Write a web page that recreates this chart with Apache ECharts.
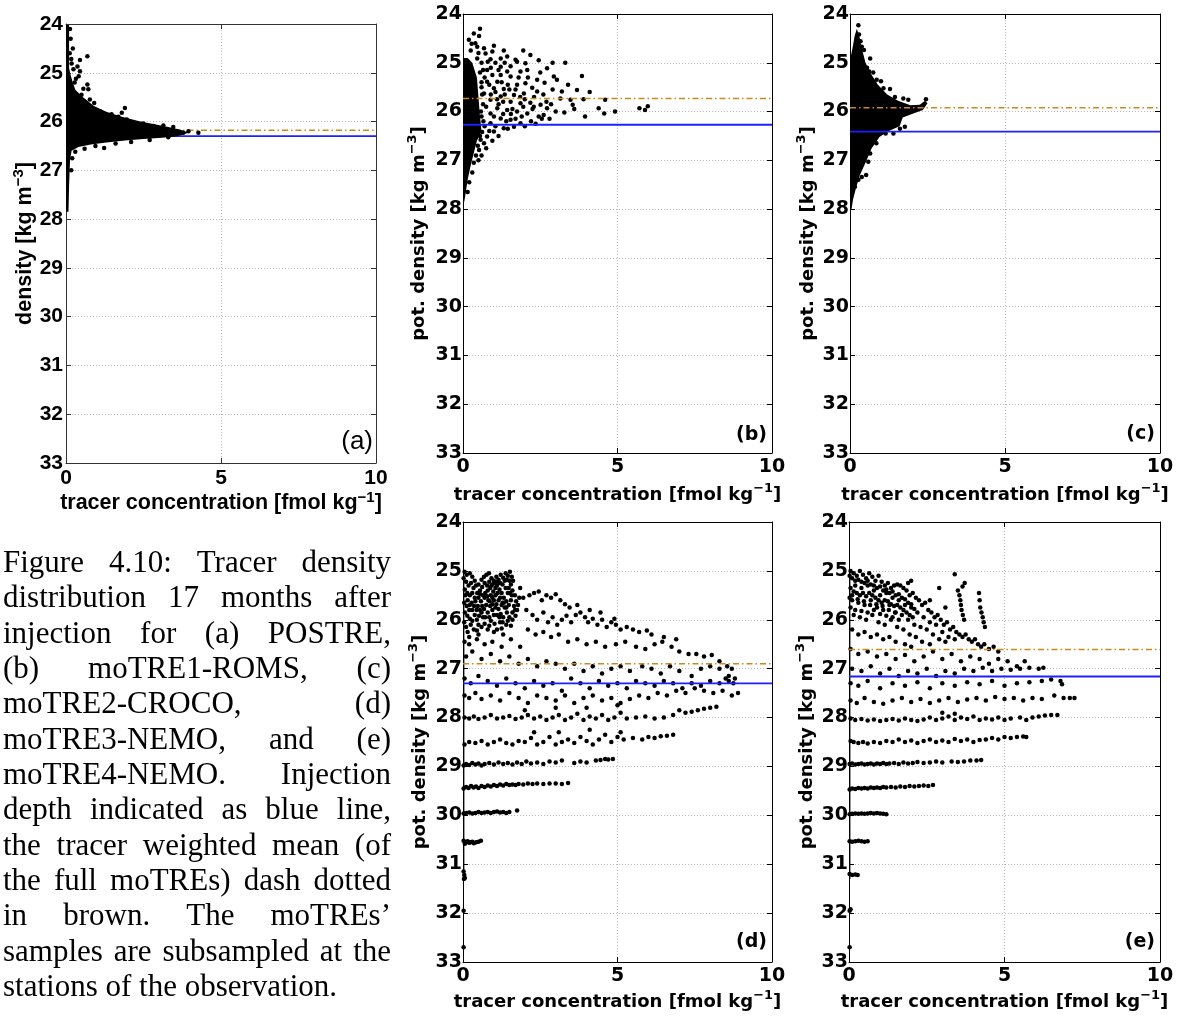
<!DOCTYPE html>
<html><head><meta charset="utf-8">
<script src="https://cdn.jsdelivr.net/npm/echarts@6/dist/echarts.min.js"></script>
<style>html,body{margin:0;padding:0;background:#fff}#c{width:1179px;height:1019px}</style>
</head><body><div id="c"></div><script>
// ---------------- data ----------------
const panelTags = ['(a)', '(b)', '(c)', '(d)', '(e)'];
const yTitles = ['density [kg m', 'pot. density [kg m', 'pot. density [kg m', 'pot. density [kg m', 'pot. density [kg m'];
const xTitle = 'tracer concentration [fmol kg';
const xTicks = [0, 5, 10];
const yTicks = [24, 25, 26, 27, 28, 29, 30, 31, 32, 33];
const injectionDepth = [26.30, 26.27, 26.41, 27.30, 27.16];   // blue lines
const weightedMean = [26.18, 25.73, 25.92, 26.90, 26.61];     // brown dash-dot lines

// saturated (fully black) point clouds, outlined
const coreA = [[0,24.02],[0.1,24.02],[0.1,24.9],[0.15,25.05],[0.22,25.2],[0.3,25.35],[0.55,25.5],[0.9,25.68],[1.3,25.8],[1.8,25.9],[2.4,26.0],[2.9,26.06],[3.3,26.11],[3.7,26.17],[3.95,26.23],[3.6,26.3],[3.1,26.33],[2.5,26.36],[1.9,26.39],[1.3,26.43],[0.8,26.47],[0.4,26.52],[0.18,26.6],[0.13,26.8],[0.1,27.3],[0.08,27.85],[0,27.85]];
const coreB = [[0,24.9],[0.15,24.9],[0.3,25.0],[0.45,25.3],[0.5,25.7],[0.55,26.1],[0.6,26.4],[0.45,26.6],[0.35,26.85],[0.25,27.1],[0.15,27.4],[0.08,27.7],[0.04,27.85],[0,27.85]];
const coreC = [[0,24.95],[0.08,24.7],[0.15,24.45],[0.22,24.3],[0.3,24.45],[0.38,24.7],[0.5,25.0],[0.7,25.25],[0.9,25.45],[1.2,25.65],[1.55,25.78],[1.95,25.87],[2.25,25.86],[2.42,25.78],[2.5,25.83],[2.35,25.97],[2.0,26.05],[1.7,26.12],[1.6,26.3],[1.25,26.4],[0.95,26.52],[0.7,26.75],[0.5,27.05],[0.32,27.3],[0.2,27.55],[0.1,27.8],[0.05,28.0],[0,28.0]];
const colD = [[0,25.0],[0.045,25.0],[0.045,31.3],[0,31.3]];
const colE = [[0,25.0],[0.045,25.0],[0.045,31.3],[0,31.3]];

// individual samples
const pointsA = [[0.22,24.5],[0.69,24.66],[0.45,24.74],[0.18,24.81],[0.37,24.87],[0.45,24.97],[0.24,24.93],[0.41,25.07],[0.32,25.12],[0.69,25.24],[0.72,25.34],[0.56,25.33],[0.91,25.62],[0.77,25.55],[1.1,25.79],[1.9,25.72],[1.8,25.82],[1.47,25.85],[1.2,25.85],[1.69,25.9],[1.23,26.54],[4.27,26.23],[3.95,26.2],[3.78,26.23],[3.46,26.11],[3.14,26.08],[2.82,26.09],[2.49,26.04],[2.17,26.02],[2.28,26.08],[1.96,25.96],[1.58,25.94],[0.13,24.1],[0.15,24.3],[0.12,24.6],[0.17,24.72],[0.28,25.2],[0.5,25.45],[0.62,25.6],[0.85,25.72],[3.3,26.32],[2.7,26.38],[2.1,26.42],[1.6,26.45],[0.95,26.5],[0.6,26.56],[0.3,26.62],[0.2,26.75],[0.17,27.0]];
const pointsB = [[0.52,24.45],[0.19,24.53],[0.28,24.61],[0.46,24.67],[0.68,24.7],[1.0,24.65],[1.32,24.75],[0.73,24.81],[0.89,24.93],[0.46,24.91],[2.18,24.84],[1.75,24.98],[1.54,25.07],[1.22,25.08],[1.43,25.18],[0.78,25.15],[3.31,25.0],[2.72,25.11],[2.02,25.01],[2.08,25.15],[1.86,25.18],[1.22,25.25],[1.54,25.28],[1.11,25.39],[0.78,25.39],[3.85,25.27],[2.4,25.35],[3.04,25.35],[2.64,25.41],[1.75,25.45],[2.02,25.42],[2.24,25.51],[1.0,25.52],[1.32,25.54],[0.68,25.63],[1.65,25.66],[1.97,25.63],[2.4,25.59],[3.2,25.59],[3.69,25.56],[1.22,25.69],[0.89,25.76],[3.15,25.73],[3.48,25.76],[3.9,25.75],[4.6,25.76],[1.54,25.8],[1.86,25.83],[2.18,25.82],[2.51,25.86],[2.72,25.93],[3.55,25.86],[4.39,25.93],[4.57,26.04],[4.92,26.0],[5.71,25.93],[5.98,25.89],[5.89,25.97],[3.28,26.02],[2.61,26.07],[2.45,26.1],[2.08,26.04],[1.75,26.0],[1.43,25.97],[1.11,25.93],[0.89,26.04],[1.22,26.14],[1.54,26.17],[1.86,26.24],[1.65,26.31],[1.32,26.34],[1.0,26.41],[0.78,26.51],[0.68,26.65],[0.57,26.58],[0.89,26.24],[0.52,26.79],[2.29,25.9],[2.94,25.28],[1.22,24.91],[1.43,24.87],[1.7,24.94],[0.95,24.77],[0.6,25.0],[0.7,25.3],[0.9,25.1],[1.05,25.6],[0.6,25.5],[0.75,25.9],[0.6,26.1],[0.7,26.3],[1.0,26.1],[1.3,25.8],[1.45,25.45],[1.6,25.95],[1.9,26.1],[2.0,25.75],[2.2,26.2],[1.15,26.5],[0.95,26.6],[0.6,26.9],[0.5,27.0],[1.8,25.3],[2.5,25.2],[2.3,25.7],[0.55,24.3],[0.35,24.4],[0.65,25.15],[2.9,25.55],[2.7,25.8],[1.35,25.0],[0.85,25.45],[1.15,25.85],[1.4,26.2],[2.55,26.15],[0.62,26.42],
[0.55,25.2],[0.6,25.4],[0.62,25.65],[0.65,25.85],[0.58,26.0],[0.66,26.2],[0.55,26.5],[0.48,26.7],[0.42,26.9],[0.35,27.05],[0.3,27.25],[0.2,27.45],[0.15,27.65],[0.5,24.8],[0.4,24.6],[0.25,24.75],[0.8,24.98],[1.05,25.0],[0.95,25.25],[1.15,25.15],[1.25,25.4],[0.9,25.65],[1.1,25.75],[1.35,25.65],[1.5,25.55],[1.7,25.55],[1.85,25.7],[2.1,25.3],[2.25,25.95],[1.95,25.9],[1.3,26.05],[1.05,26.3],[0.85,26.4],[1.55,26.05],[1.7,26.15],[2.0,26.3],[1.45,26.35],[0.75,26.75],[2.6,25.65],[2.85,25.85],[3.0,26.0],[2.8,26.15],[2.35,26.25],[3.4,25.45],[3.6,25.95],[4.1,25.6],[3.95,26.1],[2.45,24.95],[2.9,25.0],[1.95,24.75]];
const pointsC = [[0.27,24.23],[0.29,24.42],[0.22,24.53],[0.34,24.56],[0.38,24.67],[0.45,24.74],[0.65,24.91],[0.62,25.18],[0.86,25.35],[1.08,25.52],[1.29,25.54],[1.45,25.7],[1.72,25.73],[1.88,25.76],[1.67,25.97],[1.29,26.07],[1.77,26.31],[1.61,26.35],[1.4,26.45],[0.75,26.59],[0.65,26.86],[0.52,27.3],[0.38,27.34],[0.27,27.4],[0.16,27.54],[0.34,27.13],[0.59,27.03],[0.55,25.1],[0.75,25.2],[1.0,25.38],[1.15,26.45],[0.85,26.65],[2.45,25.75]];
const pointsD = [
[0.05,25.02],[0.12,25.08],[0.22,25.05],[0.3,25.12],[0.38,25.2],[0.5,25.28],[0.55,25.4],[0.62,25.33],[0.7,25.25],[0.78,25.3],[0.85,25.22],[0.92,25.15],[1.0,25.2],[1.08,25.12],[1.15,25.18],[1.22,25.08],[1.3,25.14],[1.38,25.05],[1.45,25.1],[1.52,25.02],[1.58,25.12],[1.62,25.2],[1.55,25.28],[1.48,25.35],[1.6,25.4],[1.68,25.5],[1.72,25.62],[1.65,25.72],[1.75,25.8],[1.7,25.92],[1.6,26.0],[1.5,25.95],[1.42,25.85],[1.35,25.75],[1.28,25.65],[1.2,25.55],[1.12,25.45],[1.05,25.35],[0.98,25.42],[0.9,25.5],[0.82,25.6],[0.75,25.7],[0.68,25.78],[0.6,25.85],[0.52,25.92],[0.45,26.0],[0.38,25.9],[0.3,25.8],[0.22,25.7],[0.15,25.6],[0.08,25.5],[0.5,25.55],[0.58,25.62],[0.65,25.5],[0.72,25.45],[0.8,25.4],[0.88,25.35],[0.95,25.28],[1.1,25.3],[1.18,25.38],[1.25,25.45],[1.32,25.55],[1.4,25.62],[1.45,25.45],[1.38,25.35],[1.28,25.28],[1.0,25.6],[1.08,25.68],[1.15,25.78],[1.22,25.88],[1.3,25.95],[1.1,25.9],[0.95,25.8],[0.88,25.72],[0.8,25.85],[0.72,25.95],[0.9,26.02],[1.02,26.08],[1.2,26.05],[1.4,26.1],[1.55,26.12],[0.25,26.1],[0.1,26.15],[0.35,26.2],[0.6,26.15],[0.8,26.2],[1.0,26.25],[1.3,26.3],[0.5,26.3],[0.2,26.35],
[0.02,25.15],[0.1,25.22],[0.18,25.3],[0.26,25.25],[0.34,25.35],[0.42,25.3],[0.06,25.38],[0.14,25.45],[0.22,25.5],[0.3,25.45],[0.38,25.55],[0.46,25.45],[0.04,25.65],[0.12,25.72],[0.2,25.8],[0.28,25.65],[0.36,25.72],[0.44,25.8],[0.06,25.85],[0.14,25.92],[0.22,25.98],[0.3,26.02],[0.04,26.05],[0.6,25.18],[0.68,25.12],[0.76,25.08],[0.84,25.05],[0.92,25.3],[1.02,25.25],[1.12,25.22],[1.2,25.25],[1.35,25.2],[1.42,25.18],[1.5,25.2],[0.95,25.55],[1.05,25.5],[1.15,25.6],[1.25,25.7],[1.32,25.65],[1.4,25.75],[1.48,25.7],[1.55,25.6],[1.58,25.5],[1.52,25.45],[0.62,25.72],[0.55,25.8],[0.65,25.95],[0.85,25.95],[1.0,25.9],[1.18,25.95],[1.28,26.05],[0.5,26.1],[0.7,26.08],[0.85,26.12],[0.4,25.62],[0.48,25.72],[0.56,25.48],[0.7,25.55],[0.78,25.52],[0.86,25.62],[0.95,25.68],[1.05,25.75],[1.6,25.85],[1.68,25.8],[1.78,25.7],[1.82,25.55],[1.45,26.02],[1.25,26.18],[1.1,26.2],[0.45,26.22],[0.15,26.25],
[1.85,25.35],[1.95,25.55],[2.05,25.8],[2.15,25.5],[2.3,25.45],[2.45,25.42],[2.55,25.6],[2.7,25.5],[2.85,25.55],[3.0,25.48],[3.15,25.6],[3.3,25.68],[3.45,25.75],[2.25,25.9],[2.4,26.0],[2.6,25.85],[2.75,26.05],[2.9,25.95],[3.05,26.1],[3.2,26.0],[3.35,25.92],[3.5,26.05],[3.65,25.9],[3.8,25.85],[3.95,25.95],[4.05,26.05],[4.2,25.98],[4.35,26.1],[4.5,26.0],[4.65,26.15],[4.8,26.05],[4.95,26.1],[5.1,26.2],[5.3,26.15],[5.5,26.2],[5.7,26.25],[5.95,26.22],[6.1,26.3],[3.7,25.7],[4.1,25.8],[4.45,25.85],[4.9,25.98],
[2.1,26.2],[2.35,26.3],[2.6,26.25],[2.85,26.35],[3.1,26.3],[3.4,26.45],[3.7,26.4],[4.0,26.5],[4.3,26.45],[4.6,26.55],[4.95,26.5],[5.25,26.45],[5.6,26.55],[5.9,26.6],[6.2,26.5],[6.45,26.45],[6.75,26.55],[7.0,26.65],[7.3,26.7],[7.55,26.7],[7.8,26.75],[8.05,26.72],[8.3,26.85],[8.55,26.95],[8.7,27.0],[6.5,26.35],[6.9,26.4],
[0.1,26.75],[0.3,26.65],[0.6,26.8],[0.9,26.7],[1.2,26.85],[1.5,26.75],[1.8,26.9],[2.1,26.8],[2.4,26.95],[2.7,26.85],[3.0,26.9],[3.3,27.0],[3.6,26.9],[3.9,27.05],[4.2,26.95],[4.5,27.1],[4.8,27.0],[5.1,26.95],[5.4,27.05],[5.8,26.95],[6.1,27.0],[6.4,27.1],[6.7,26.95],[7.0,27.05],[7.4,27.15],[7.7,27.0],[8.0,26.95],[8.3,27.0],[8.6,27.15],[8.8,27.2],[8.75,27.3],[8.6,27.25],
[0.05,26.45],[0.2,26.5],[0.45,26.4],[0.7,26.5],[0.95,26.45],[1.25,26.55],[1.55,26.4],[1.85,26.55],
[0.05,27.2],[0.25,27.3],[0.5,27.15],[0.8,27.25],[1.1,27.35],[1.4,27.2],[1.7,27.3],[2.0,27.4],[2.3,27.25],[2.6,27.35],[2.9,27.3],[3.2,27.45],[3.5,27.2],[3.8,27.3],[4.1,27.4],[4.4,27.25],[4.7,27.35],[5.0,27.3],[5.3,27.4],[5.6,27.25],[5.9,27.3],[6.2,27.35],[6.5,27.25],[6.8,27.3],[7.1,27.4],[7.4,27.3],[7.7,27.35],[8.0,27.25],[8.3,27.3],[8.5,27.2],
[0.05,27.55],[0.2,27.6],[0.4,27.5],[0.6,27.62],[0.9,27.55],[1.2,27.65],[1.5,27.5],[1.8,27.6],[2.1,27.7],[2.4,27.55],[2.7,27.6],[3.0,27.65],[3.3,27.55],[3.6,27.7],[3.9,27.6],[4.2,27.55],[4.5,27.65],[4.8,27.6],[5.1,27.7],[5.4,27.62],[5.7,27.55],[6.0,27.6],[6.3,27.5],[6.6,27.55],[6.9,27.45],[7.2,27.5],[7.5,27.4],[7.8,27.45],[8.1,27.5],[8.4,27.45],[8.7,27.55],[8.9,27.5],
[0.05,28.0],[0.2,28.02],[0.35,27.98],[0.5,28.03],[0.7,28.0],[0.9,27.95],[1.1,28.02],[1.3,28.0],[1.5,27.97],[1.7,28.03],[1.9,28.0],[2.1,27.95],[2.3,28.02],[2.5,27.98],[2.7,28.05],[2.9,28.0],[3.1,27.95],[3.3,28.05],[3.5,28.0],[3.7,27.92],[3.9,28.05],[4.1,27.98],[4.3,28.02],[4.5,27.95],[4.7,28.05],[4.9,28.0],[5.1,27.9],[5.3,28.02],[5.6,28.0],[5.9,27.98],[6.2,28.02],[6.5,28.0],[6.8,27.95],[7.0,27.85],[7.2,27.9],[7.4,27.88],[7.6,27.85],[7.8,27.82],[8.0,27.8],[8.2,27.78],[3.0,27.8],[4.0,27.8],[5.0,27.75],[2.0,27.85],
[0.05,28.55],[0.2,28.5],[0.4,28.52],[0.6,28.48],[0.8,28.55],[1.0,28.5],[1.2,28.45],[1.4,28.52],[1.6,28.55],[1.8,28.48],[2.0,28.5],[2.2,28.42],[2.4,28.55],[2.6,28.5],[2.8,28.4],[3.0,28.55],[3.2,28.5],[3.4,28.45],[3.6,28.52],[3.8,28.4],[4.0,28.48],[4.2,28.55],[4.4,28.45],[4.6,28.35],[4.8,28.5],[5.0,28.4],[5.2,28.45],[5.5,28.42],[5.8,28.45],[6.0,28.4],[6.2,28.42],[6.4,28.38],[6.6,28.37],[6.8,28.35],[3.1,28.3],[4.1,28.25],[5.1,28.3],[2.3,28.3],
[0.02,28.98],[0.1,28.95],[0.2,28.97],[0.3,28.93],[0.4,28.96],[0.5,28.94],[0.6,28.98],[0.7,28.95],[0.85,28.93],[1.0,28.96],[1.15,28.92],[1.3,28.95],[1.45,28.93],[1.6,28.96],[1.75,28.92],[1.9,28.95],[2.05,28.9],[2.2,28.94],[2.4,28.92],[2.6,28.95],[2.8,28.9],[3.0,28.92],[3.2,28.88],[3.6,28.93],[3.8,28.9],[4.0,28.92],[4.3,28.88],[4.45,28.87],[4.6,28.85],[4.7,28.86],[4.85,28.85],
[0.02,29.45],[0.1,29.42],[0.18,29.44],[0.26,29.4],[0.34,29.43],[0.42,29.41],[0.5,29.44],[0.6,29.4],[0.7,29.42],[0.8,29.39],[0.9,29.41],[1.0,29.38],[1.1,29.4],[1.2,29.37],[1.3,29.39],[1.4,29.36],[1.5,29.38],[1.6,29.37],[1.7,29.38],[1.8,29.36],[1.95,29.37],[2.1,29.35],[2.25,29.36],[2.4,29.35],[2.6,29.36],[2.8,29.35],[3.0,29.35],[3.2,29.36],[3.4,29.34],
[0.02,29.96],[0.1,29.95],[0.2,29.94],[0.3,29.96],[0.4,29.95],[0.5,29.93],[0.6,29.95],[0.7,29.94],[0.8,29.93],[0.9,29.95],[1.0,29.93],[1.1,29.92],[1.2,29.94],[1.3,29.93],[1.4,29.95],[1.5,29.93],[1.75,29.9],
[0.02,30.52],[0.06,30.58],[0.1,30.55],[0.15,30.53],[0.2,30.56],[0.25,30.55],[0.3,30.54],[0.35,30.57],[0.42,30.55],[0.5,30.54],[0.58,30.52],
[0.02,31.15],[0.04,31.22],[0.06,31.28],[0.03,31.3],[0.02,31.95],[0.02,32.7]];
const pointsE = [
[0.05,25.0],[0.15,25.05],[0.25,25.1],[0.35,25.0],[0.45,25.08],[0.55,25.15],[0.65,25.05],[0.75,25.12],[0.85,25.2],[0.95,25.1],[1.05,25.22],[1.15,25.3],[1.25,25.25],[1.35,25.35],[1.45,25.3],[1.55,25.28],[1.65,25.3],[1.75,25.35],[1.85,25.4],[1.95,25.5],[2.05,25.45],[2.15,25.55],[2.25,25.6],[2.35,25.7],[2.45,25.65],[2.55,25.8],[2.65,25.85],[2.75,25.95],[2.85,25.9],[2.95,26.0],[3.05,26.1],[3.15,26.05],[3.25,26.2],[3.35,26.15],[3.45,26.25],[3.55,26.3],[3.65,26.35],[3.75,26.3],[3.85,26.4],[3.95,26.45],[4.05,26.4],[4.15,26.5],[4.25,26.55],[4.35,26.5],[4.5,26.6],[4.65,26.55],[4.8,26.65],
[0.2,25.3],[0.4,25.35],[0.6,25.3],[0.8,25.4],[1.0,25.5],[1.2,25.45],[1.4,25.55],[1.6,25.6],[1.8,25.7],[2.0,25.75],[2.2,25.85],[2.4,25.95],[2.6,26.05],[2.8,26.1],[3.0,26.25],[3.2,26.35],[3.4,26.4],[0.1,25.6],[0.3,25.65],[0.5,25.7],[0.7,25.6],[0.9,25.75],[1.1,25.8],[1.3,25.7],[1.5,25.85],[1.7,25.9],[1.9,26.0],[2.1,26.1],[2.3,26.15],[2.5,26.2],[2.7,26.3],[2.9,26.4],[3.1,26.45],[0.15,25.9],[0.35,25.95],[0.55,26.0],[0.75,25.9],[0.95,26.05],[1.15,26.1],[1.35,26.0],[1.55,26.15],[1.75,26.2],[1.95,26.3],[2.15,26.35],[2.35,26.45],[2.6,26.5],[0.1,26.2],[0.3,26.3],[0.5,26.25],[0.7,26.35],[0.9,26.3],[1.1,26.4],[1.3,26.35],[1.5,26.45],[1.8,26.5],[2.0,26.55],
[0.02,25.1],[0.1,25.15],[0.2,25.2],[0.3,25.18],[0.4,25.22],[0.5,25.25],[0.6,25.2],[0.7,25.28],[0.8,25.3],[0.9,25.35],[1.0,25.32],[1.1,25.4],[1.2,25.38],[1.3,25.45],[1.4,25.42],[1.5,25.5],[1.6,25.48],[1.7,25.55],[1.8,25.58],[1.9,25.65],[2.0,25.68],[2.1,25.78],[0.05,25.35],[0.15,25.42],[0.25,25.45],[0.35,25.5],[0.45,25.45],[0.55,25.52],[0.65,25.45],[0.75,25.5],[0.85,25.55],[0.95,25.6],[1.05,25.65],[1.15,25.6],[1.25,25.62],[1.35,25.68],[1.45,25.72],[1.55,25.7],[1.65,25.75],[1.75,25.8],[1.85,25.85],[1.95,25.9],[2.05,25.95],[0.05,25.75],[0.2,25.8],[0.4,25.82],[0.6,25.85],[0.8,25.8],[1.0,25.88],[1.2,25.92],[1.4,25.95],[1.6,26.0],[0.02,25.55],[0.1,25.5],[0.28,25.58],[0.48,25.62],[0.68,25.7],[0.88,25.68],[1.08,25.72],[1.28,25.8],[1.48,25.85],
[3.4,25.07],[3.5,25.4],[3.55,25.5],[3.58,25.6],[3.6,25.7],[3.62,25.8],[3.66,25.9],[3.7,26.0],[3.72,25.25],[3.65,25.32],[4.18,25.45],[4.2,25.6],[4.22,25.75],[4.26,25.85],[4.3,25.95],[4.33,26.05],[4.37,26.15],[2.9,25.35],[2.6,25.6],[3.1,25.75],[1.9,25.25],[2.0,25.2],
[0.05,26.6],[0.3,26.7],[0.6,26.65],[0.9,26.75],[1.2,26.7],[1.5,26.8],[1.8,26.72],[2.1,26.85],[2.4,26.75],[2.7,26.65],[3.0,26.8],[3.3,26.7],[3.6,26.85],[3.9,26.75],[4.2,26.8],[4.5,26.9],[4.8,26.8],[5.1,26.85],[5.4,26.95],[5.65,26.85],
[0.1,27.0],[0.4,27.05],[0.7,26.95],[1.0,27.1],[1.3,27.0],[1.6,27.15],[1.9,27.05],[2.2,27.1],[2.5,27.0],[2.8,27.15],[3.1,27.05],[3.4,27.1],[3.7,27.0],[4.0,27.05],[4.3,26.98],[4.6,27.05],[4.9,27.0],[5.2,27.02],[5.5,27.0],[5.8,26.98],[6.1,27.0],[6.25,26.98],
[0.05,27.3],[0.3,27.35],[0.6,27.25],[1.0,27.4],[1.4,27.3],[1.8,27.35],[2.2,27.28],[2.6,27.4],[3.0,27.3],[3.4,27.35],[3.8,27.28],[4.2,27.32],[4.6,27.25],[5.0,27.35],[5.4,27.3],[5.8,27.28],[6.2,27.25],[6.5,27.22],[6.8,27.25],[6.85,27.32],
[0.05,27.65],[0.25,27.7],[0.5,27.6],[0.8,27.68],[1.1,27.72],[1.4,27.65],[1.7,27.6],[2.0,27.68],[2.3,27.62],[2.6,27.7],[2.9,27.65],[3.2,27.6],[3.5,27.68],[3.8,27.63],[4.1,27.6],[4.4,27.65],[4.7,27.58],[5.0,27.62],[5.3,27.6],[5.6,27.65],[5.9,27.6],[6.2,27.62],[6.6,27.55],[6.9,27.6],[7.1,27.6],[7.25,27.6],
[0.05,28.02],[0.2,28.05],[0.4,28.03],[0.6,28.06],[0.8,28.04],[1.0,28.07],[1.2,28.05],[1.4,28.03],[1.6,28.06],[1.8,28.02],[2.0,28.05],[2.2,28.07],[2.4,28.04],[2.6,28.0],[2.8,28.05],[3.0,28.02],[3.2,27.98],[3.4,28.05],[3.6,28.0],[3.8,28.03],[4.0,27.98],[4.2,28.05],[4.4,28.02],[4.6,28.04],[4.8,28.0],[5.0,28.05],[5.2,28.02],[5.5,28.0],[5.7,28.05],[5.9,28.0],[6.1,27.98],[6.3,27.96],[6.5,27.95],[6.7,27.95],[3.0,27.9],[3.4,27.92],
[0.05,28.48],[0.15,28.5],[0.3,28.52],[0.45,28.5],[0.6,28.53],[0.8,28.5],[1.0,28.52],[1.2,28.48],[1.4,28.5],[1.6,28.45],[1.8,28.5],[2.0,28.47],[2.2,28.52],[2.4,28.48],[2.6,28.45],[2.8,28.5],[3.0,28.47],[3.2,28.5],[3.4,28.44],[3.6,28.48],[3.8,28.45],[4.0,28.5],[4.2,28.46],[4.4,28.45],[4.6,28.42],[4.8,28.45],[5.0,28.4],[5.2,28.42],[5.4,28.4],[5.6,28.39],[5.7,28.4],
[0.02,28.95],[0.1,28.94],[0.2,28.96],[0.3,28.95],[0.4,28.94],[0.5,28.96],[0.6,28.95],[0.7,28.94],[0.8,28.96],[0.9,28.94],[1.0,28.95],[1.1,28.93],[1.2,28.95],[1.3,28.94],[1.45,28.93],[1.6,28.95],[1.75,28.92],[1.9,28.94],[2.05,28.93],[2.2,28.91],[2.4,28.93],[2.6,28.92],[2.8,28.9],[3.0,28.92],[3.3,28.9],[3.5,28.91],[3.7,28.9],[3.9,28.88],[4.1,28.88],[4.25,28.87],
[0.02,29.47],[0.1,29.45],[0.2,29.46],[0.3,29.44],[0.4,29.45],[0.5,29.44],[0.6,29.45],[0.7,29.43],[0.8,29.44],[0.9,29.43],[1.0,29.44],[1.1,29.42],[1.2,29.43],[1.35,29.42],[1.5,29.43],[1.65,29.41],[1.8,29.42],[1.95,29.4],[2.1,29.41],[2.25,29.4],[2.4,29.39],[2.55,29.4],[2.7,29.38],
[0.02,29.98],[0.1,29.97],[0.2,29.96],[0.3,29.97],[0.4,29.96],[0.5,29.97],[0.6,29.96],[0.7,29.95],[0.8,29.96],[0.9,29.95],[1.0,29.96],[1.1,29.97],[1.2,29.98],
[0.02,30.53],[0.1,30.54],[0.2,30.53],[0.3,30.52],[0.4,30.53],[0.5,30.54],[0.6,30.53],
[0.02,31.2],[0.1,31.22],[0.2,31.21],[0.28,31.22],[0.02,31.95],[0.05,31.92],[0.02,32.7]];

const captionLines = [
  ['Figure', '4.10:', 'Tracer', 'density'],
  ['distribution', '17', 'months', 'after'],
  ['injection', 'for', '(a)', 'POSTRE,'],
  ['(b)', 'moTRE1-ROMS,', '(c)'],
  ['moTRE2-CROCO,', '(d)'],
  ['moTRE3-NEMO,', 'and', '(e)'],
  ['moTRE4-NEMO.', 'Injection'],
  ['depth', 'indicated', 'as', 'blue', 'line,'],
  ['the', 'tracer', 'weighted', 'mean', '(of'],
  ['the', 'full', 'moTREs)', 'dash', 'dotted'],
  ['in', 'brown.', 'The', 'moTREs\u2019'],
  ['samples', 'are', 'subsampled', 'at', 'the'],
  ['stations', 'of', 'the', 'observation.']
];

const cores = [[coreA], [coreB], [coreC], [colD], [colE]];
const points = [pointsA, pointsB, pointsC, pointsD, pointsE];

// ---------------- layout / style ----------------
const FA = '"Liberation Sans", Arial, sans-serif';
const FB = '"DejaVu Sans", sans-serif';
const layout = [
  {left: 66, top: 24, width: 310, height: 439, font: FA, fs: 21, tfs: 21.5, ylm: 3, xlm: 5, xGap: 22, yGap: 25, axisColor: '#333'},
  {left: 463, top: 14, width: 309, height: 439, font: FB, fs: 19, tfs: 18, ylm: 1, xlm: 5, xGap: 29, yGap: 31, axisColor: '#000'},
  {left: 850, top: 14, width: 310, height: 439, font: FB, fs: 19, tfs: 18, ylm: 1, xlm: 5, xGap: 29, yGap: 29, axisColor: '#000'},
  {left: 463, top: 522, width: 309, height: 440, font: FB, fs: 19, tfs: 18, ylm: 1, xlm: 5, xGap: 27, yGap: 30, axisColor: '#000'},
  {left: 849, top: 522, width: 311, height: 440, font: FB, fs: 19, tfs: 18, ylm: 1, xlm: 5, xGap: 27, yGap: 29, axisColor: '#000'}
];
const tagPos = [[373, 442], [767, 435], [1155, 434], [767, 942], [1155, 942]];

function richFor(L) {
  return {
    t: {fontFamily: L.font, fontWeight: 'bold', fontSize: L.tfs, color: '#000', lineHeight: 26},
    s: {fontFamily: L.font, fontWeight: 'bold', fontSize: Math.round(L.tfs * 0.7), color: '#000', lineHeight: 12, verticalAlign: 'top'}
  };
}

const grids = [], xAxes = [], yAxes = [], series = [];
layout.forEach((L, i) => {
  grids.push({left: L.left, top: L.top, width: L.width, height: L.height, containLabel: false, outerBoundsMode: 'none', show: false});
  const line = {show: true, onZero: false, lineStyle: {color: L.axisColor, width: 1}};
  const tick = {show: true, inside: true, length: 5, lineStyle: {color: L.axisColor, width: 1}};
  const split = {show: true, lineStyle: {color: '#b8b8b8', width: 1, type: [1, 2]}};
  const lab = {fontFamily: L.font, fontWeight: 'bold', fontSize: L.fs, color: '#000'};
  xAxes.push({gridIndex: i, type: 'value', position: 'bottom', min: xTicks[0], max: xTicks[xTicks.length - 1], interval: xTicks[1] - xTicks[0],
    axisLine: line, axisTick: tick, splitLine: split, axisLabel: Object.assign({margin: L.xlm}, lab),
    name: '{t|' + xTitle + '}{s|\u22121}{t|]}', nameLocation: 'middle', nameGap: L.xGap, nameTextStyle: {rich: richFor(L)}});
  xAxes.push({gridIndex: i, type: 'value', position: 'top', min: xTicks[0], max: xTicks[xTicks.length - 1], interval: xTicks[1] - xTicks[0],
    axisLine: line, axisTick: tick, splitLine: {show: false}, axisLabel: {show: false}});
  yAxes.push({gridIndex: i, type: 'value', position: 'left', inverse: true, min: yTicks[0], max: yTicks[yTicks.length - 1], interval: 1,
    axisLine: line, axisTick: tick, splitLine: split, axisLabel: Object.assign({margin: L.ylm}, lab),
    name: '{t|' + yTitles[i] + '}{s|\u22123}{t|]}', nameLocation: 'middle', nameRotate: 90, nameGap: L.yGap, nameTextStyle: {rich: richFor(L)}});
  yAxes.push({gridIndex: i, type: 'value', position: 'right', inverse: true, min: yTicks[0], max: yTicks[yTicks.length - 1], interval: 1,
    axisLine: line, axisTick: tick, splitLine: {show: false}, axisLabel: {show: false}});

  const xi = 2 * i, yi = 2 * i;
  cores[i].forEach(poly => {
    series.push({type: 'custom', coordinateSystem: 'cartesian2d', xAxisIndex: xi, yAxisIndex: yi, silent: true, clip: false, z: 3,
      data: [poly[0]],
      renderItem: (params, api) => ({type: 'polygon', shape: {points: poly.map(p => api.coord(p))}, style: {fill: '#000'}})});
  });
  series.push({type: 'scatter', xAxisIndex: xi, yAxisIndex: yi, data: points[i], symbol: 'circle', symbolSize: 4.5,
    itemStyle: {color: '#000', opacity: 1}, silent: true, clip: false, z: 3});
  const lz = i === 0 ? 2 : 5;
  series.push({type: 'line', xAxisIndex: xi, yAxisIndex: yi, data: [[xTicks[0], weightedMean[i]], [xTicks[2], weightedMean[i]]],
    symbol: 'none', silent: true, z: lz, lineStyle: {color: '#cc8a18', width: 1.5, type: [6, 3, 1.5, 3]}});
  series.push({type: 'line', xAxisIndex: xi, yAxisIndex: yi, data: [[xTicks[0], injectionDepth[i]], [xTicks[2], injectionDepth[i]]],
    symbol: 'none', silent: true, z: lz, lineStyle: {color: '#1f1fff', width: 1.8}});
});

// ---------------- graphics: panel tags and caption ----------------
const graphics = [];
panelTags.forEach((t, i) => {
  const bold = i > 0;
  const font = bold ? 'bold 19px "DejaVu Sans"' : '26px "Liberation Sans"';
  graphics.push({type: 'text', x: tagPos[i][0], y: tagPos[i][1], z: 100,
    style: {text: t, font: font, fill: '#000', align: 'right', verticalAlign: 'middle', textAlign: 'right', textVerticalAlign: 'middle'}});
});

(function caption() {
  const capLeft = 3, capRight = 391, capTop = 564, capStep = 35.33, lastWidth = 343;
  const ctx = document.createElement('canvas').getContext('2d');
  ctx.font = '100px "Liberation Serif"';
  let fs = lastWidth / ctx.measureText(captionLines[captionLines.length - 1].join(' ')).width * 100;
  fs = Math.min(fs, 31);
  const font = fs.toFixed(1) + 'px "Liberation Serif"';
  ctx.font = font;
  captionLines.forEach((words, i) => {
    const y = capTop + i * capStep;
    const widths = words.map(w => ctx.measureText(w).width);
    const total = widths.reduce((a, b) => a + b, 0);
    const isLast = i === captionLines.length - 1;
    const gap = isLast ? ctx.measureText(' ').width : (capRight - capLeft - total) / (words.length - 1);
    let x = capLeft;
    words.forEach((w, j) => {
      graphics.push({type: 'text', x: x, y: y, style: {text: w, font: font, fill: '#000', align: 'left', verticalAlign: 'middle', textAlign: 'left', textVerticalAlign: 'middle'}});
      x += widths[j] + gap;
    });
  });
})();

const chart = echarts.init(document.getElementById('c'), null, {renderer: 'canvas'});
chart.setOption({
  animation: false,
  backgroundColor: '#fff',
  grid: grids, xAxis: xAxes, yAxis: yAxes, series: series, graphic: graphics
});
</script></body></html>
